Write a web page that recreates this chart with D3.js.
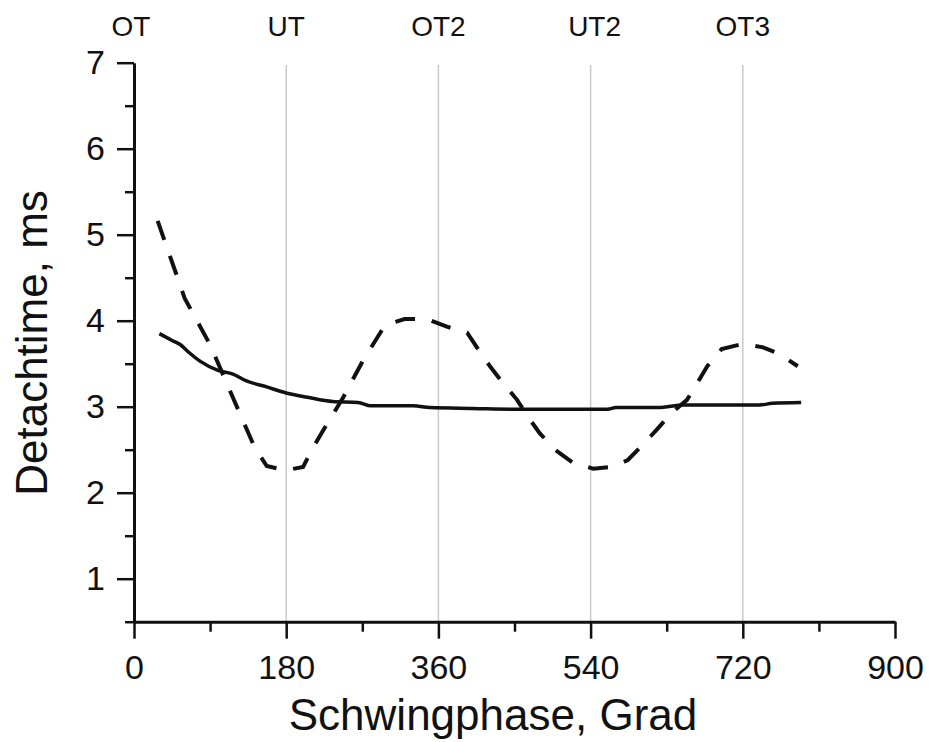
<!DOCTYPE html>
<html>
<head>
<meta charset="utf-8">
<script src="https://cdn.jsdelivr.net/npm/d3@7"></script>
<style>
  html, body { margin: 0; padding: 0; background: #fff; }
  svg { display: block; }
  text { font-family: "Liberation Sans", Arial, Helvetica, sans-serif; fill: #111; }
</style>
</head>
<body>
<svg id="chart" width="929" height="742"></svg>
<script>
// Phase markers along the top (dead centres)
const markerPhases = [0, 180, 360, 540, 720];
const markerLabels = ["OT", "UT", "OT2", "UT2", "OT3"];

// Axis ticks
const xTicks = [0, 180, 360, 540, 720, 900];
const xMinorTicks = [90, 270, 450, 630, 810];
const yTicks = [1, 2, 3, 4, 5, 6, 7];
const yMinorTicks = [0.5, 1.5, 2.5, 3.5, 4.5, 5.5, 6.5];

// Solid curve: phase (deg) and detach time (ms)
const solidPhase = [30, 45, 55, 65, 78, 100, 117, 133, 157, 180, 205, 235, 265, 280, 330, 350, 400, 460, 560, 570, 620, 650, 740, 755, 789];
const solidTime  = [3.85, 3.77, 3.72, 3.63, 3.53, 3.42, 3.38, 3.30, 3.23, 3.16, 3.11, 3.06, 3.05, 3.01, 3.01, 2.99, 2.98, 2.97, 2.97, 2.99, 2.99, 3.02, 3.02, 3.04, 3.05];

// Dashed curve: phase (deg) and detach time (ms)
const dashPhase = [28, 60, 90, 119, 143, 157, 179, 200, 212, 224, 247, 271, 297, 320, 346, 370, 394, 409, 421, 436, 453, 466, 480, 498, 519, 543, 566, 584, 602, 618, 636, 654, 667, 678, 695, 720, 744, 764, 785];
const dashTime  = [5.16, 4.26, 3.72, 3.06, 2.52, 2.31, 2.26, 2.30, 2.53, 2.73, 3.10, 3.54, 3.95, 4.02, 4.02, 3.93, 3.86, 3.64, 3.47, 3.28, 3.08, 2.88, 2.69, 2.50, 2.35, 2.28, 2.30, 2.38, 2.56, 2.73, 2.93, 3.08, 3.29, 3.47, 3.67, 3.73, 3.69, 3.61, 3.47];

const svg = d3.select("#chart");

const x = d3.scaleLinear().domain([0, 900]).range([134, 895]);
const y = d3.scaleLinear().domain([0.5, 7]).range([621.7, 62.7]);

// Vertical reference lines at the dead centres (skip the one on the axis)
svg.append("g")
  .selectAll("line")
  .data(markerPhases.filter(d => d > 0))
  .join("line")
  .attr("x1", d => x(d)).attr("x2", d => x(d))
  .attr("y1", 65).attr("y2", y(0.5))
  .attr("stroke", "#c9c9c9")
  .attr("stroke-width", 1.5);

// Dead-centre labels along the top
svg.append("g")
  .selectAll("text")
  .data(markerPhases)
  .join("text")
  .attr("x", (d, i) => x(d) + (i === 0 ? -3 : (i === 3 ? 4 : 0)))
  .attr("y", 36)
  .attr("text-anchor", "middle")
  .attr("font-size", 28)
  .text((d, i) => markerLabels[i]);

// Curves
const solidData = solidPhase.map((p, i) => [p, solidTime[i]]);
const dashData = dashPhase.map((p, i) => [p, dashTime[i]]);
const line = d3.line().x(d => x(d[0])).y(d => y(d[1]));

svg.append("path")
  .datum(dashData)
  .attr("d", line)
  .attr("fill", "none")
  .attr("stroke", "#111")
  .attr("stroke-width", 4)
  .attr("stroke-dasharray", "20,17");

svg.append("path")
  .datum(solidData)
  .attr("d", line.curve(d3.curveMonotoneX))
  .attr("fill", "none")
  .attr("stroke", "#111")
  .attr("stroke-width", 3.5)
  .attr("stroke-linejoin", "round");

// X axis
svg.append("g")
  .attr("transform", `translate(0,${y(0.5)})`)
  .call(d3.axisBottom(x).tickValues(xTicks).tickFormat(d3.format("d"))
    .tickSize(17).tickPadding(16).tickSizeOuter(0));
svg.append("g")
  .attr("transform", `translate(0,${y(0.5)})`)
  .call(d3.axisBottom(x).tickValues(xMinorTicks).tickSize(10).tickFormat("").tickSizeOuter(0))
  .call(g => g.select(".domain").remove());

// Y axis
svg.append("g")
  .attr("transform", `translate(${x(0)},0)`)
  .call(d3.axisLeft(y).tickValues(yTicks).tickFormat(d3.format("d"))
    .tickSize(17).tickPadding(12).tickSizeOuter(0));
svg.append("g")
  .attr("transform", `translate(${x(0)},0)`)
  .call(d3.axisLeft(y).tickValues(yMinorTicks).tickSize(9).tickFormat("").tickSizeOuter(0))
  .call(g => g.select(".domain").remove());

svg.selectAll(".domain").attr("stroke", "#111").attr("stroke-width", 3);
svg.selectAll(".tick line").attr("stroke", "#111").attr("stroke-width", 2.5);
svg.selectAll(".tick text")
  .attr("font-size", 34)
  .attr("font-family", "Liberation Sans, Arial, sans-serif")
  .attr("fill", "#111");

// Axis titles
svg.append("text")
  .attr("x", 493)
  .attr("y", 730)
  .attr("text-anchor", "middle")
  .attr("font-size", 44)
  .text("Schwingphase, Grad");

svg.append("text")
  .attr("transform", "translate(47,343) rotate(-90)")
  .attr("text-anchor", "middle")
  .attr("font-size", 44)
  .text("Detachtime, ms");
</script>
</body>
</html>
